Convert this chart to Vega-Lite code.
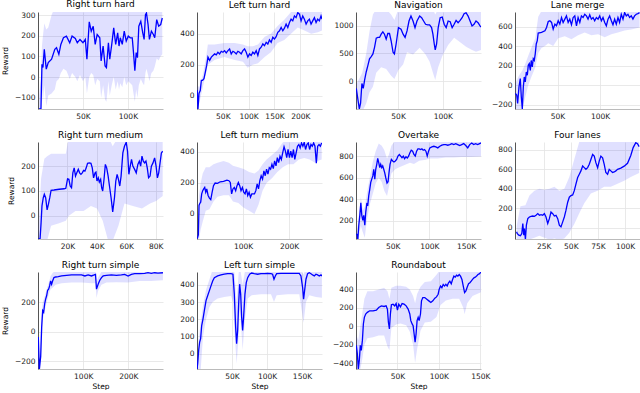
{
"$schema":"https://vega.github.io/schema/vega-lite/v6.json",
"padding":{"left":1,"top":0,"right":0,"bottom":0},
"columns":4,
"spacing":{"row":33,"column":34},
"bounds":"flush",
"datasets":{
"line":[
{"p":1,"s":1.1,"m":-155},{"p":1,"s":3.3,"m":-155},{"p":1,"s":4.4,"m":62},{"p":1,"s":5.5,"m":46},{"p":1,"s":7,"m":134},{"p":1,"s":9.2,"m":38},{"p":1,"s":11.4,"m":70},{"p":1,"s":15.1,"m":86},{"p":1,"s":18.7,"m":134},{"p":1,"s":20.6,"m":142},{"p":1,"s":23.2,"m":110},{"p":1,"s":25.4,"m":158},{"p":1,"s":28.3,"m":190},{"p":1,"s":31.6,"m":198},{"p":1,"s":35.3,"m":166},{"p":1,"s":37.9,"m":198},{"p":1,"s":41.5,"m":187},{"p":1,"s":43.7,"m":166},{"p":1,"s":46.7,"m":182},{"p":1,"s":50,"m":166},{"p":1,"s":52.6,"m":182},{"p":1,"s":54.4,"m":86},{"p":1,"s":57,"m":267},{"p":1,"s":59.2,"m":222},{"p":1,"s":61.4,"m":246},{"p":1,"s":63.6,"m":158},{"p":1,"s":65.8,"m":206},{"p":1,"s":68.7,"m":190},{"p":1,"s":70.2,"m":78},{"p":1,"s":72.4,"m":150},{"p":1,"s":74.6,"m":54},{"p":1,"s":76.1,"m":46},{"p":1,"s":78.3,"m":166},{"p":1,"s":79.8,"m":86},{"p":1,"s":82,"m":158},{"p":1,"s":84.2,"m":238},{"p":1,"s":86.4,"m":158},{"p":1,"s":88.6,"m":214},{"p":1,"s":90.1,"m":150},{"p":1,"s":91.5,"m":190},{"p":1,"s":93.7,"m":158},{"p":1,"s":95.9,"m":222},{"p":1,"s":98.1,"m":174},{"p":1,"s":100.4,"m":198},{"p":1,"s":102.6,"m":190},{"p":1,"s":104.8,"m":190},{"p":1,"s":106.2,"m":118},{"p":1,"s":107.7,"m":30},{"p":1,"s":109.2,"m":118},{"p":1,"s":110.6,"m":94},{"p":1,"s":112.1,"m":246},{"p":1,"s":114.3,"m":270},{"p":1,"s":116.5,"m":214},{"p":1,"s":118,"m":182},{"p":1,"s":119.5,"m":302},{"p":1,"s":120.6,"m":310},{"p":1,"s":122.4,"m":254},{"p":1,"s":123.9,"m":182},{"p":1,"s":126.1,"m":222},{"p":1,"s":128.3,"m":206},{"p":1,"s":129.8,"m":190},{"p":1,"s":132,"m":278},{"p":1,"s":134.2,"m":246},{"p":1,"s":136.4,"m":254},{"p":1,"s":138.2,"m":286},
{"p":2,"s":0.6,"m":36},{"p":2,"s":1.9,"m":-85},{"p":2,"s":3.9,"m":15},{"p":2,"s":6.4,"m":36},{"p":2,"s":8.4,"m":100},{"p":2,"s":10.9,"m":100},{"p":2,"s":13.5,"m":110},{"p":2,"s":16.1,"m":153},{"p":2,"s":18.7,"m":196},{"p":2,"s":21.2,"m":249},{"p":2,"s":24.5,"m":228},{"p":2,"s":27.7,"m":249},{"p":2,"s":30.9,"m":260},{"p":2,"s":34.1,"m":270},{"p":2,"s":37.3,"m":264},{"p":2,"s":40.5,"m":281},{"p":2,"s":43.8,"m":270},{"p":2,"s":47,"m":287},{"p":2,"s":50.2,"m":281},{"p":2,"s":53.4,"m":291},{"p":2,"s":56.6,"m":277},{"p":2,"s":59.9,"m":291},{"p":2,"s":63.1,"m":302},{"p":2,"s":66.3,"m":270},{"p":2,"s":69.5,"m":287},{"p":2,"s":72.7,"m":281},{"p":2,"s":76,"m":270},{"p":2,"s":79.2,"m":287},{"p":2,"s":82.4,"m":281},{"p":2,"s":85.6,"m":270},{"p":2,"s":88.8,"m":291},{"p":2,"s":92.1,"m":302},{"p":2,"s":95.3,"m":281},{"p":2,"s":98.5,"m":249},{"p":2,"s":101.7,"m":270},{"p":2,"s":104.9,"m":260},{"p":2,"s":108.1,"m":281},{"p":2,"s":111.4,"m":270},{"p":2,"s":114.6,"m":291},{"p":2,"s":117.8,"m":260},{"p":2,"s":121,"m":302},{"p":2,"s":124.2,"m":313},{"p":2,"s":127.5,"m":334},{"p":2,"s":130.7,"m":323},{"p":2,"s":133.9,"m":345},{"p":2,"s":137.1,"m":334},{"p":2,"s":140.3,"m":360},{"p":2,"s":143.6,"m":345},{"p":2,"s":146.8,"m":377},{"p":2,"s":150,"m":366},{"p":2,"s":153.2,"m":381},{"p":2,"s":156.4,"m":409},{"p":2,"s":159.7,"m":419},{"p":2,"s":162.9,"m":440},{"p":2,"s":166.1,"m":419},{"p":2,"s":169.3,"m":436},{"p":2,"s":172.5,"m":462},{"p":2,"s":175.8,"m":440},{"p":2,"s":179,"m":472},{"p":2,"s":182.2,"m":494},{"p":2,"s":185.4,"m":483},{"p":2,"s":188.6,"m":515},{"p":2,"s":191.8,"m":504},{"p":2,"s":195.1,"m":536},{"p":2,"s":198.3,"m":526},{"p":2,"s":201.5,"m":483},{"p":2,"s":204.7,"m":515},{"p":2,"s":207.9,"m":494},{"p":2,"s":211.2,"m":462},{"p":2,"s":214.4,"m":483},{"p":2,"s":217.6,"m":494},{"p":2,"s":220.8,"m":462},{"p":2,"s":224,"m":483},{"p":2,"s":227.3,"m":504},{"p":2,"s":230.5,"m":472},{"p":2,"s":233.7,"m":494},{"p":2,"s":236.9,"m":483},{"p":2,"s":240.1,"m":515},{"p":2,"s":242,"m":494},
{"p":3,"s":3.3,"m":-130},{"p":3,"s":5.2,"m":-337},{"p":3,"s":6.7,"m":-497},{"p":3,"s":8.1,"m":-396},{"p":3,"s":9.6,"m":-41},{"p":3,"s":11.1,"m":-130},{"p":3,"s":12.6,"m":18},{"p":3,"s":14.4,"m":166},{"p":3,"s":16.3,"m":284},{"p":3,"s":18.1,"m":402},{"p":3,"s":20,"m":444},{"p":3,"s":21.9,"m":491},{"p":3,"s":23.7,"m":609},{"p":3,"s":25.6,"m":775},{"p":3,"s":27.4,"m":787},{"p":3,"s":29.3,"m":787},{"p":3,"s":31.1,"m":846},{"p":3,"s":33,"m":888},{"p":3,"s":34.8,"m":846},{"p":3,"s":36.7,"m":757},{"p":3,"s":38.5,"m":858},{"p":3,"s":40.4,"m":858},{"p":3,"s":42.2,"m":728},{"p":3,"s":44.4,"m":521},{"p":3,"s":45.9,"m":491},{"p":3,"s":47.8,"m":669},{"p":3,"s":50.4,"m":964},{"p":3,"s":53.3,"m":935},{"p":3,"s":55.6,"m":846},{"p":3,"s":57.8,"m":787},{"p":3,"s":60,"m":905},{"p":3,"s":62.2,"m":1083},{"p":3,"s":64.4,"m":1172},{"p":3,"s":66.7,"m":1083},{"p":3,"s":68.9,"m":964},{"p":3,"s":71.1,"m":1083},{"p":3,"s":74.1,"m":1172},{"p":3,"s":76.3,"m":1142},{"p":3,"s":78.5,"m":1083},{"p":3,"s":80.7,"m":1024},{"p":3,"s":83,"m":1012},{"p":3,"s":85.2,"m":1012},{"p":3,"s":87.4,"m":964},{"p":3,"s":88.9,"m":846},{"p":3,"s":90.4,"m":669},{"p":3,"s":91.5,"m":562},{"p":3,"s":93,"m":669},{"p":3,"s":94.8,"m":964},{"p":3,"s":97,"m":1142},{"p":3,"s":99.3,"m":1154},{"p":3,"s":101.5,"m":1024},{"p":3,"s":103.7,"m":964},{"p":3,"s":105.9,"m":1083},{"p":3,"s":108.2,"m":1071},{"p":3,"s":110.4,"m":964},{"p":3,"s":112.6,"m":1024},{"p":3,"s":114.8,"m":1095},{"p":3,"s":117,"m":1053},{"p":3,"s":119.3,"m":1095},{"p":3,"s":121.5,"m":1142},{"p":3,"s":123.7,"m":1213},{"p":3,"s":125.9,"m":1231},{"p":3,"s":128.2,"m":1172},{"p":3,"s":130.4,"m":1083},{"p":3,"s":132.6,"m":994},{"p":3,"s":134.8,"m":1024},{"p":3,"s":137,"m":1083},{"p":3,"s":139.3,"m":1053},{"p":3,"s":141.5,"m":994},{"p":3,"s":142.6,"m":976},
{"p":4,"s":0.4,"m":-84},{"p":4,"s":2,"m":-101},{"p":4,"s":3.1,"m":-186},{"p":4,"s":4.7,"m":-17},{"p":4,"s":6.2,"m":68},{"p":4,"s":7.4,"m":-118},{"p":4,"s":8.6,"m":-243},{"p":4,"s":9.8,"m":-17},{"p":4,"s":10.9,"m":84},{"p":4,"s":12.1,"m":34},{"p":4,"s":13.3,"m":135},{"p":4,"s":14.5,"m":101},{"p":4,"s":15.6,"m":203},{"p":4,"s":16.8,"m":220},{"p":4,"s":18,"m":152},{"p":4,"s":19.1,"m":253},{"p":4,"s":20.3,"m":186},{"p":4,"s":21.5,"m":270},{"p":4,"s":22.7,"m":253},{"p":4,"s":23.8,"m":321},{"p":4,"s":25,"m":422},{"p":4,"s":26.2,"m":456},{"p":4,"s":27.3,"m":534},{"p":4,"s":31.2,"m":541},{"p":4,"s":35.2,"m":557},{"p":4,"s":37.1,"m":591},{"p":4,"s":39.1,"m":652},{"p":4,"s":41,"m":659},{"p":4,"s":43,"m":642},{"p":4,"s":44.9,"m":574},{"p":4,"s":46.9,"m":625},{"p":4,"s":48.8,"m":608},{"p":4,"s":50.8,"m":659},{"p":4,"s":52.7,"m":625},{"p":4,"s":54.7,"m":693},{"p":4,"s":56.6,"m":642},{"p":4,"s":58.6,"m":676},{"p":4,"s":60.5,"m":709},{"p":4,"s":62.5,"m":642},{"p":4,"s":64.4,"m":676},{"p":4,"s":66.4,"m":618},{"p":4,"s":68.4,"m":693},{"p":4,"s":70.3,"m":709},{"p":4,"s":72.3,"m":608},{"p":4,"s":74.2,"m":693},{"p":4,"s":76.2,"m":642},{"p":4,"s":78.1,"m":709},{"p":4,"s":80.1,"m":693},{"p":4,"s":82,"m":726},{"p":4,"s":84,"m":709},{"p":4,"s":85.9,"m":676},{"p":4,"s":87.9,"m":720},{"p":4,"s":89.8,"m":676},{"p":4,"s":91.8,"m":693},{"p":4,"s":93.7,"m":659},{"p":4,"s":95.7,"m":693},{"p":4,"s":97.7,"m":676},{"p":4,"s":99.6,"m":709},{"p":4,"s":101.6,"m":659},{"p":4,"s":103.5,"m":693},{"p":4,"s":105.5,"m":642},{"p":4,"s":107.4,"m":608},{"p":4,"s":109.4,"m":676},{"p":4,"s":111.3,"m":709},{"p":4,"s":113.3,"m":659},{"p":4,"s":115.2,"m":618},{"p":4,"s":117.2,"m":676},{"p":4,"s":119.1,"m":625},{"p":4,"s":121.1,"m":693},{"p":4,"s":123,"m":642},{"p":4,"s":125,"m":726},{"p":4,"s":127,"m":676},{"p":4,"s":128.9,"m":743},{"p":4,"s":130.9,"m":709},{"p":4,"s":132.8,"m":726},{"p":4,"s":134.8,"m":693},{"p":4,"s":136.7,"m":709},{"p":4,"s":138.7,"m":676},{"p":4,"s":140.6,"m":709},{"p":4,"s":142.6,"m":726},{"p":4,"s":144.5,"m":733},{"p":4,"s":146.5,"m":743},
{"p":5,"s":0.2,"m":-93},{"p":5,"s":1.4,"m":-93},{"p":5,"s":2.1,"m":-27},{"p":5,"s":2.7,"m":40},{"p":5,"s":3.6,"m":73},{"p":5,"s":4.3,"m":87},{"p":5,"s":5.2,"m":73},{"p":5,"s":6.2,"m":24},{"p":5,"s":7.1,"m":47},{"p":5,"s":8,"m":73},{"p":5,"s":8.9,"m":103},{"p":5,"s":10.9,"m":104},{"p":5,"s":14.4,"m":107},{"p":5,"s":17.8,"m":109},{"p":5,"s":18.9,"m":111},{"p":5,"s":20.1,"m":149},{"p":5,"s":21,"m":147},{"p":5,"s":21.9,"m":120},{"p":5,"s":22.8,"m":113},{"p":5,"s":23.7,"m":173},{"p":5,"s":24.6,"m":193},{"p":5,"s":25.5,"m":160},{"p":5,"s":26.4,"m":173},{"p":5,"s":27.4,"m":187},{"p":5,"s":28.3,"m":173},{"p":5,"s":29.2,"m":167},{"p":5,"s":30.1,"m":173},{"p":5,"s":31,"m":183},{"p":5,"s":31.9,"m":180},{"p":5,"s":32.8,"m":193},{"p":5,"s":33.7,"m":211},{"p":5,"s":34.9,"m":213},{"p":5,"s":36,"m":211},{"p":5,"s":36.9,"m":193},{"p":5,"s":37.8,"m":153},{"p":5,"s":38.8,"m":173},{"p":5,"s":39.4,"m":176},{"p":5,"s":40.1,"m":140},{"p":5,"s":41,"m":153},{"p":5,"s":41.7,"m":136},{"p":5,"s":42.6,"m":147},{"p":5,"s":43.3,"m":113},{"p":5,"s":44,"m":100},{"p":5,"s":44.9,"m":147},{"p":5,"s":45.8,"m":207},{"p":5,"s":46.7,"m":193},{"p":5,"s":47.7,"m":160},{"p":5,"s":48.6,"m":120},{"p":5,"s":49.7,"m":73},{"p":5,"s":50.8,"m":16},{"p":5,"s":52,"m":73},{"p":5,"s":52.9,"m":140},{"p":5,"s":53.8,"m":167},{"p":5,"s":54.7,"m":147},{"p":5,"s":55.6,"m":120},{"p":5,"s":56.5,"m":160},{"p":5,"s":57.7,"m":253},{"p":5,"s":58.8,"m":280},{"p":5,"s":60,"m":296},{"p":5,"s":60.9,"m":260},{"p":5,"s":61.8,"m":167},{"p":5,"s":62.7,"m":200},{"p":5,"s":63.6,"m":227},{"p":5,"s":64.5,"m":200},{"p":5,"s":65.7,"m":187},{"p":5,"s":66.8,"m":173},{"p":5,"s":67.9,"m":207},{"p":5,"s":68.9,"m":220},{"p":5,"s":69.8,"m":200},{"p":5,"s":70.7,"m":240},{"p":5,"s":71.6,"m":220},{"p":5,"s":72.5,"m":213},{"p":5,"s":73.4,"m":220},{"p":5,"s":74.3,"m":193},{"p":5,"s":75.2,"m":153},{"p":5,"s":76.2,"m":160},{"p":5,"s":77.1,"m":200},{"p":5,"s":78.2,"m":213},{"p":5,"s":79.3,"m":233},{"p":5,"s":80.3,"m":200},{"p":5,"s":81.2,"m":153},{"p":5,"s":82.1,"m":173},{"p":5,"s":83,"m":213},{"p":5,"s":83.9,"m":253},{"p":5,"s":84.8,"m":260},
{"p":6,"s":0.7,"m":-157},{"p":6,"s":2.9,"m":-135},{"p":6,"s":4.4,"m":55},{"p":6,"s":5.8,"m":66},{"p":6,"s":8,"m":76},{"p":6,"s":10.2,"m":129},{"p":6,"s":12.4,"m":150},{"p":6,"s":14.6,"m":161},{"p":6,"s":16.8,"m":171},{"p":6,"s":19,"m":140},{"p":6,"s":21.2,"m":161},{"p":6,"s":24.1,"m":119},{"p":6,"s":27,"m":102},{"p":6,"s":29.9,"m":93},{"p":6,"s":32.9,"m":140},{"p":6,"s":35.8,"m":182},{"p":6,"s":39.4,"m":199},{"p":6,"s":44.5,"m":197},{"p":6,"s":50.4,"m":207},{"p":6,"s":57.7,"m":210},{"p":6,"s":65,"m":218},{"p":6,"s":69.4,"m":214},{"p":6,"s":72.3,"m":203},{"p":6,"s":75.2,"m":129},{"p":6,"s":78.1,"m":161},{"p":6,"s":81,"m":171},{"p":6,"s":84,"m":150},{"p":6,"s":86.9,"m":182},{"p":6,"s":89.8,"m":203},{"p":6,"s":92.7,"m":182},{"p":6,"s":95.6,"m":150},{"p":6,"s":98.6,"m":171},{"p":6,"s":101.5,"m":140},{"p":6,"s":104.4,"m":129},{"p":6,"s":107.3,"m":161},{"p":6,"s":110.2,"m":119},{"p":6,"s":113.2,"m":140},{"p":6,"s":116.1,"m":108},{"p":6,"s":119,"m":129},{"p":6,"s":121.9,"m":129},{"p":6,"s":124.8,"m":129},{"p":6,"s":127.8,"m":150},{"p":6,"s":130.7,"m":193},{"p":6,"s":133.6,"m":161},{"p":6,"s":136.5,"m":214},{"p":6,"s":139.4,"m":246},{"p":6,"s":142.4,"m":224},{"p":6,"s":145.3,"m":277},{"p":6,"s":148.2,"m":246},{"p":6,"s":151.1,"m":288},{"p":6,"s":154,"m":256},{"p":6,"s":157,"m":298},{"p":6,"s":159.9,"m":288},{"p":6,"s":162.8,"m":320},{"p":6,"s":165.7,"m":292},{"p":6,"s":168.6,"m":341},{"p":6,"s":171.6,"m":309},{"p":6,"s":174.5,"m":362},{"p":6,"s":177.4,"m":330},{"p":6,"s":180.3,"m":372},{"p":6,"s":183.2,"m":351},{"p":6,"s":186.2,"m":394},{"p":6,"s":189.1,"m":432},{"p":6,"s":192,"m":404},{"p":6,"s":194.9,"m":362},{"p":6,"s":197.8,"m":415},{"p":6,"s":200.8,"m":362},{"p":6,"s":203.7,"m":404},{"p":6,"s":206.6,"m":362},{"p":6,"s":209.5,"m":415},{"p":6,"s":212.4,"m":351},{"p":6,"s":215.4,"m":394},{"p":6,"s":218.3,"m":436},{"p":6,"s":221.2,"m":447},{"p":6,"s":224.1,"m":425},{"p":6,"s":227,"m":457},{"p":6,"s":230,"m":436},{"p":6,"s":232.9,"m":461},{"p":6,"s":235.8,"m":415},{"p":6,"s":238.7,"m":447},{"p":6,"s":241.6,"m":457},{"p":6,"s":244.6,"m":415},{"p":6,"s":247.5,"m":447},{"p":6,"s":250.4,"m":436},{"p":6,"s":253.3,"m":457},{"p":6,"s":256.2,"m":436},{"p":6,"s":259.2,"m":326},{"p":6,"s":262.1,"m":436},{"p":6,"s":265,"m":447},{"p":6,"s":267.9,"m":436},{"p":6,"s":270.8,"m":457},
{"p":7,"s":0.2,"m":71},{"p":7,"s":1.6,"m":71},{"p":7,"s":2.5,"m":20},{"p":7,"s":3.8,"m":157},{"p":7,"s":5.2,"m":249},{"p":7,"s":6.6,"m":366},{"p":7,"s":7.9,"m":249},{"p":7,"s":9.3,"m":203},{"p":7,"s":10.6,"m":249},{"p":7,"s":12,"m":157},{"p":7,"s":13.3,"m":280},{"p":7,"s":14.7,"m":357},{"p":7,"s":16.1,"m":348},{"p":7,"s":17.4,"m":434},{"p":7,"s":18.8,"m":495},{"p":7,"s":20.1,"m":557},{"p":7,"s":21.5,"m":588},{"p":7,"s":22.9,"m":618},{"p":7,"s":24.2,"m":680},{"p":7,"s":25.6,"m":588},{"p":7,"s":26.9,"m":680},{"p":7,"s":28.3,"m":726},{"p":7,"s":29.6,"m":782},{"p":7,"s":31,"m":742},{"p":7,"s":32.4,"m":695},{"p":7,"s":33.7,"m":726},{"p":7,"s":35.1,"m":695},{"p":7,"s":36.4,"m":711},{"p":7,"s":37.8,"m":680},{"p":7,"s":39.1,"m":649},{"p":7,"s":40.5,"m":603},{"p":7,"s":42.3,"m":551},{"p":7,"s":43.7,"m":563},{"p":7,"s":45,"m":649},{"p":7,"s":46.4,"m":726},{"p":7,"s":48.2,"m":772},{"p":7,"s":50,"m":757},{"p":7,"s":51.8,"m":748},{"p":7,"s":53.6,"m":757},{"p":7,"s":55.4,"m":772},{"p":7,"s":57.2,"m":803},{"p":7,"s":59.1,"m":818},{"p":7,"s":60.9,"m":803},{"p":7,"s":62.7,"m":788},{"p":7,"s":64.5,"m":803},{"p":7,"s":66.3,"m":778},{"p":7,"s":68.1,"m":797},{"p":7,"s":69.9,"m":785},{"p":7,"s":71.7,"m":803},{"p":7,"s":73.5,"m":834},{"p":7,"s":75.3,"m":858},{"p":7,"s":77.2,"m":849},{"p":7,"s":79,"m":818},{"p":7,"s":80.8,"m":803},{"p":7,"s":82.6,"m":849},{"p":7,"s":84.4,"m":871},{"p":7,"s":86.2,"m":871},{"p":7,"s":88,"m":865},{"p":7,"s":89.8,"m":871},{"p":7,"s":91.6,"m":858},{"p":7,"s":93.4,"m":865},{"p":7,"s":95.3,"m":849},{"p":7,"s":97.1,"m":803},{"p":7,"s":98.9,"m":849},{"p":7,"s":100.7,"m":880},{"p":7,"s":103.4,"m":889},{"p":7,"s":106.1,"m":895},{"p":7,"s":108.8,"m":889},{"p":7,"s":111.5,"m":880},{"p":7,"s":114.3,"m":895},{"p":7,"s":117,"m":905},{"p":7,"s":119.7,"m":911},{"p":7,"s":122.4,"m":911},{"p":7,"s":125.1,"m":905},{"p":7,"s":127.8,"m":911},{"p":7,"s":130.6,"m":920},{"p":7,"s":133.3,"m":911},{"p":7,"s":136,"m":920},{"p":7,"s":138.7,"m":911},{"p":7,"s":141.4,"m":902},{"p":7,"s":144.1,"m":911},{"p":7,"s":146.8,"m":920},{"p":7,"s":149.6,"m":902},{"p":7,"s":152.3,"m":880},{"p":7,"s":155,"m":911},{"p":7,"s":157.7,"m":926},{"p":7,"s":160.4,"m":911},{"p":7,"s":163.1,"m":920},{"p":7,"s":165.8,"m":911},{"p":7,"s":168.5,"m":920},{"p":7,"s":170.4,"m":926},
{"p":8,"s":0,"m":-40},{"p":8,"s":0.5,"m":-57},{"p":8,"s":2,"m":-74},{"p":8,"s":3.5,"m":-81},{"p":8,"s":4.8,"m":-57},{"p":8,"s":5.7,"m":44},{"p":8,"s":6.6,"m":-74},{"p":8,"s":7.2,"m":-7},{"p":8,"s":8.1,"m":-120},{"p":8,"s":9,"m":27},{"p":8,"s":10.3,"m":94},{"p":8,"s":11.8,"m":111},{"p":8,"s":13.3,"m":118},{"p":8,"s":14.9,"m":121},{"p":8,"s":16.4,"m":118},{"p":8,"s":17.9,"m":128},{"p":8,"s":19.5,"m":145},{"p":8,"s":21,"m":128},{"p":8,"s":22.5,"m":134},{"p":8,"s":24.1,"m":128},{"p":8,"s":25.6,"m":145},{"p":8,"s":27.1,"m":111},{"p":8,"s":28.7,"m":44},{"p":8,"s":30.2,"m":94},{"p":8,"s":31.7,"m":161},{"p":8,"s":33.3,"m":145},{"p":8,"s":34.8,"m":121},{"p":8,"s":36.3,"m":128},{"p":8,"s":37.9,"m":94},{"p":8,"s":39.4,"m":27},{"p":8,"s":40.9,"m":10},{"p":8,"s":42.5,"m":61},{"p":8,"s":44,"m":111},{"p":8,"s":45.5,"m":178},{"p":8,"s":47.1,"m":262},{"p":8,"s":48.6,"m":313},{"p":8,"s":50.1,"m":329},{"p":8,"s":51.7,"m":336},{"p":8,"s":53.2,"m":380},{"p":8,"s":54.7,"m":447},{"p":8,"s":56.3,"m":514},{"p":8,"s":57.8,"m":548},{"p":8,"s":59.3,"m":582},{"p":8,"s":60.9,"m":632},{"p":8,"s":62.4,"m":615},{"p":8,"s":63.9,"m":598},{"p":8,"s":65.5,"m":615},{"p":8,"s":67,"m":649},{"p":8,"s":68.5,"m":699},{"p":8,"s":70.1,"m":750},{"p":8,"s":71.6,"m":733},{"p":8,"s":73.1,"m":666},{"p":8,"s":74.7,"m":615},{"p":8,"s":76.2,"m":682},{"p":8,"s":77.7,"m":733},{"p":8,"s":79.3,"m":716},{"p":8,"s":80.8,"m":649},{"p":8,"s":82.3,"m":565},{"p":8,"s":83.9,"m":548},{"p":8,"s":85.4,"m":598},{"p":8,"s":86.9,"m":582},{"p":8,"s":88.5,"m":565},{"p":8,"s":90,"m":571},{"p":8,"s":91.5,"m":582},{"p":8,"s":93.1,"m":598},{"p":8,"s":96.1,"m":610},{"p":8,"s":99.2,"m":630},{"p":8,"s":102.3,"m":660},{"p":8,"s":105.3,"m":740},{"p":8,"s":107.5,"m":820},{"p":8,"s":109.9,"m":870},{"p":8,"s":111.5,"m":860},{"p":8,"s":113,"m":830},
{"p":9,"s":0.7,"m":-36},{"p":9,"s":2.9,"m":-254},{"p":9,"s":5.9,"m":-171},{"p":9,"s":8.1,"m":31},{"p":9,"s":10.3,"m":144},{"p":9,"s":12.5,"m":133},{"p":9,"s":14.7,"m":189},{"p":9,"s":16.9,"m":222},{"p":9,"s":19.1,"m":245},{"p":9,"s":21.3,"m":283},{"p":9,"s":23.5,"m":290},{"p":9,"s":25.7,"m":312},{"p":9,"s":27.9,"m":346},{"p":9,"s":30.1,"m":324},{"p":9,"s":32.3,"m":346},{"p":9,"s":35.3,"m":369},{"p":9,"s":39,"m":373},{"p":9,"s":44.8,"m":375},{"p":9,"s":52.2,"m":380},{"p":9,"s":63.2,"m":384},{"p":9,"s":74.2,"m":387},{"p":9,"s":85.3,"m":387},{"p":9,"s":96.3,"m":387},{"p":9,"s":103.6,"m":380},{"p":9,"s":111,"m":387},{"p":9,"s":118.3,"m":380},{"p":9,"s":124.2,"m":387},{"p":9,"s":127.2,"m":391},{"p":9,"s":129.4,"m":290},{"p":9,"s":133,"m":324},{"p":9,"s":136.7,"m":351},{"p":9,"s":140.4,"m":369},{"p":9,"s":144.1,"m":380},{"p":9,"s":151.4,"m":384},{"p":9,"s":162.4,"m":387},{"p":9,"s":173.5,"m":384},{"p":9,"s":184.5,"m":387},{"p":9,"s":191.8,"m":391},{"p":9,"s":199.2,"m":380},{"p":9,"s":206.5,"m":391},{"p":9,"s":213.9,"m":396},{"p":9,"s":224.9,"m":396},{"p":9,"s":236,"m":398},{"p":9,"s":243.3,"m":402},{"p":9,"s":250.6,"m":398},{"p":9,"s":258,"m":402},{"p":9,"s":265.3,"m":400},{"p":9,"s":276.4,"m":402},
{"p":10,"s":0,"m":-90},{"p":10,"s":1,"m":-58},{"p":10,"s":2.4,"m":19},{"p":10,"s":3.8,"m":67},{"p":10,"s":5.2,"m":87},{"p":10,"s":6.7,"m":163},{"p":10,"s":8.6,"m":202},{"p":10,"s":10.5,"m":250},{"p":10,"s":12.9,"m":308},{"p":10,"s":15.2,"m":337},{"p":10,"s":17.6,"m":365},{"p":10,"s":20,"m":394},{"p":10,"s":22.4,"m":423},{"p":10,"s":24.8,"m":442},{"p":10,"s":29.5,"m":452},{"p":10,"s":34.3,"m":458},{"p":10,"s":39,"m":462},{"p":10,"s":43.8,"m":465},{"p":10,"s":48.6,"m":465},{"p":10,"s":51.4,"m":462},{"p":10,"s":53.3,"m":346},{"p":10,"s":55.2,"m":154},{"p":10,"s":56.6,"m":58},{"p":10,"s":58.1,"m":135},{"p":10,"s":59.5,"m":288},{"p":10,"s":60.9,"m":404},{"p":10,"s":62.4,"m":346},{"p":10,"s":63.8,"m":212},{"p":10,"s":65.2,"m":135},{"p":10,"s":66.6,"m":212},{"p":10,"s":68.5,"m":346},{"p":10,"s":70.4,"m":413},{"p":10,"s":72.4,"m":442},{"p":10,"s":75.2,"m":462},{"p":10,"s":78.1,"m":469},{"p":10,"s":81.9,"m":465},{"p":10,"s":86.6,"m":462},{"p":10,"s":91.4,"m":465},{"p":10,"s":96.2,"m":465},{"p":10,"s":100.9,"m":467},{"p":10,"s":105.7,"m":465},{"p":10,"s":108,"m":462},{"p":10,"s":110,"m":433},{"p":10,"s":111.9,"m":452},{"p":10,"s":113.8,"m":465},{"p":10,"s":120,"m":467},{"p":10,"s":129.5,"m":467},{"p":10,"s":139,"m":467},{"p":10,"s":146.1,"m":467},{"p":10,"s":148.5,"m":452},{"p":10,"s":150.9,"m":385},{"p":10,"s":152.3,"m":317},{"p":10,"s":153.7,"m":365},{"p":10,"s":155.7,"m":433},{"p":10,"s":158,"m":465},{"p":10,"s":160.4,"m":471},{"p":10,"s":162.8,"m":465},{"p":10,"s":165.2,"m":458},{"p":10,"s":167.6,"m":452},{"p":10,"s":169.9,"m":462},{"p":10,"s":172.3,"m":458},{"p":10,"s":174.7,"m":452},{"p":10,"s":177.1,"m":458},{"p":10,"s":178.5,"m":452},
{"p":11,"s":0.4,"m":-208},{"p":11,"s":1.6,"m":-297},{"p":11,"s":2.8,"m":-466},{"p":11,"s":4,"m":-369},{"p":11,"s":5.2,"m":-208},{"p":11,"s":6.4,"m":-262},{"p":11,"s":7.7,"m":-154},{"p":11,"s":8.9,"m":25},{"p":11,"s":10.1,"m":97},{"p":11,"s":11.7,"m":133},{"p":11,"s":13.7,"m":151},{"p":11,"s":16.5,"m":168},{"p":11,"s":20.6,"m":168},{"p":11,"s":24.6,"m":176},{"p":11,"s":27.4,"m":204},{"p":11,"s":30.6,"m":222},{"p":11,"s":33.9,"m":215},{"p":11,"s":36.3,"m":222},{"p":11,"s":37.9,"m":186},{"p":11,"s":39.1,"m":43},{"p":11,"s":40.3,"m":-29},{"p":11,"s":41.5,"m":133},{"p":11,"s":42.7,"m":233},{"p":11,"s":44.7,"m":240},{"p":11,"s":46.7,"m":222},{"p":11,"s":48.4,"m":247},{"p":11,"s":50,"m":176},{"p":11,"s":51.6,"m":240},{"p":11,"s":53.6,"m":211},{"p":11,"s":55.6,"m":247},{"p":11,"s":58,"m":240},{"p":11,"s":60.5,"m":222},{"p":11,"s":62.9,"m":186},{"p":11,"s":64.9,"m":133},{"p":11,"s":66.1,"m":61},{"p":11,"s":67.7,"m":25},{"p":11,"s":68.9,"m":7},{"p":11,"s":70.1,"m":-82},{"p":11,"s":71.3,"m":-172},{"p":11,"s":72.5,"m":-82},{"p":11,"s":73.7,"m":61},{"p":11,"s":75,"m":97},{"p":11,"s":76.2,"m":61},{"p":11,"s":77.8,"m":133},{"p":11,"s":79,"m":276},{"p":11,"s":80.6,"m":312},{"p":11,"s":83,"m":312},{"p":11,"s":85.4,"m":294},{"p":11,"s":87.9,"m":276},{"p":11,"s":90.3,"m":258},{"p":11,"s":92.7,"m":276},{"p":11,"s":95.1,"m":305},{"p":11,"s":97.1,"m":319},{"p":11,"s":99.1,"m":348},{"p":11,"s":100.3,"m":401},{"p":11,"s":102,"m":437},{"p":11,"s":103.6,"m":419},{"p":11,"s":105.2,"m":455},{"p":11,"s":106.8,"m":437},{"p":11,"s":108.4,"m":455},{"p":11,"s":110,"m":437},{"p":11,"s":111.6,"m":473},{"p":11,"s":113.2,"m":491},{"p":11,"s":114.9,"m":462},{"p":11,"s":116.5,"m":509},{"p":11,"s":118.1,"m":545},{"p":11,"s":119.7,"m":534},{"p":11,"s":121.3,"m":556},{"p":11,"s":122.9,"m":545},{"p":11,"s":124.5,"m":563},{"p":11,"s":126.1,"m":545},{"p":11,"s":127.8,"m":509},{"p":11,"s":129.4,"m":437},{"p":11,"s":131,"m":366},{"p":11,"s":132.6,"m":384},{"p":11,"s":134.2,"m":427},{"p":11,"s":135.8,"m":462},{"p":11,"s":137.4,"m":473},{"p":11,"s":139,"m":491},{"p":11,"s":140.6,"m":509},{"p":11,"s":142.3,"m":527},{"p":11,"s":143.9,"m":534},{"p":11,"s":145.5,"m":545},{"p":11,"s":147.1,"m":563},{"p":11,"s":148.7,"m":570},{"p":11,"s":150.7,"m":588}
],
"band":[
{"p":1,"s":1.1,"lo":-160,"hi":-100},{"p":1,"s":3.3,"lo":-160,"hi":0},{"p":1,"s":4.4,"lo":-60,"hi":150},{"p":1,"s":5.5,"lo":-120,"hi":200},{"p":1,"s":7,"lo":-40,"hi":260},{"p":1,"s":9.2,"lo":-140,"hi":230},{"p":1,"s":11.4,"lo":-90,"hi":240},{"p":1,"s":15.1,"lo":-80,"hi":300},{"p":1,"s":18.7,"lo":-60,"hi":340},{"p":1,"s":20.6,"lo":-20,"hi":340},{"p":1,"s":23.2,"lo":-10,"hi":340},{"p":1,"s":25.4,"lo":20,"hi":340},{"p":1,"s":28.3,"lo":40,"hi":340},{"p":1,"s":31.6,"lo":30,"hi":340},{"p":1,"s":35.3,"lo":-10,"hi":340},{"p":1,"s":37.9,"lo":20,"hi":340},{"p":1,"s":41.5,"lo":0,"hi":340},{"p":1,"s":43.7,"lo":-20,"hi":340},{"p":1,"s":46.7,"lo":10,"hi":340},{"p":1,"s":50,"lo":-20,"hi":340},{"p":1,"s":52.6,"lo":0,"hi":340},{"p":1,"s":54.4,"lo":-80,"hi":340},{"p":1,"s":57,"lo":0,"hi":340},{"p":1,"s":59.2,"lo":20,"hi":340},{"p":1,"s":61.4,"lo":10,"hi":340},{"p":1,"s":63.6,"lo":-40,"hi":340},{"p":1,"s":65.8,"lo":-10,"hi":340},{"p":1,"s":68.7,"lo":-20,"hi":340},{"p":1,"s":70.2,"lo":-100,"hi":340},{"p":1,"s":72.4,"lo":-40,"hi":340},{"p":1,"s":74.6,"lo":-110,"hi":340},{"p":1,"s":76.1,"lo":-120,"hi":340},{"p":1,"s":78.3,"lo":-20,"hi":340},{"p":1,"s":79.8,"lo":-90,"hi":340},{"p":1,"s":82,"lo":-40,"hi":340},{"p":1,"s":84.2,"lo":0,"hi":340},{"p":1,"s":86.4,"lo":-60,"hi":340},{"p":1,"s":88.6,"lo":-20,"hi":340},{"p":1,"s":90.1,"lo":-60,"hi":340},{"p":1,"s":91.5,"lo":-30,"hi":340},{"p":1,"s":93.7,"lo":-50,"hi":340},{"p":1,"s":95.9,"lo":0,"hi":340},{"p":1,"s":98.1,"lo":-40,"hi":340},{"p":1,"s":100.4,"lo":-20,"hi":340},{"p":1,"s":102.6,"lo":-30,"hi":340},{"p":1,"s":104.8,"lo":-40,"hi":340},{"p":1,"s":106.2,"lo":-80,"hi":340},{"p":1,"s":107.7,"lo":-120,"hi":340},{"p":1,"s":109.2,"lo":-60,"hi":340},{"p":1,"s":110.6,"lo":-100,"hi":340},{"p":1,"s":112.1,"lo":-40,"hi":340},{"p":1,"s":114.3,"lo":-10,"hi":340},{"p":1,"s":116.5,"lo":-30,"hi":340},{"p":1,"s":118,"lo":-40,"hi":340},{"p":1,"s":119.5,"lo":20,"hi":340},{"p":1,"s":120.6,"lo":40,"hi":340},{"p":1,"s":122.4,"lo":10,"hi":340},{"p":1,"s":123.9,"lo":-20,"hi":340},{"p":1,"s":126.1,"lo":20,"hi":340},{"p":1,"s":128.3,"lo":30,"hi":340},{"p":1,"s":129.8,"lo":50,"hi":340},{"p":1,"s":132,"lo":90,"hi":340},{"p":1,"s":134.2,"lo":80,"hi":340},{"p":1,"s":136.4,"lo":100,"hi":340},{"p":1,"s":138.2,"lo":110,"hi":340},
{"p":2,"s":0.6,"lo":-90,"hi":60},{"p":2,"s":5,"lo":-40,"hi":60},{"p":2,"s":11.6,"lo":60,"hi":140},{"p":2,"s":18,"lo":150,"hi":260},{"p":2,"s":21,"lo":200,"hi":330},{"p":2,"s":34,"lo":230,"hi":330},{"p":2,"s":53,"lo":250,"hi":340},{"p":2,"s":73,"lo":230,"hi":340},{"p":2,"s":89,"lo":220,"hi":330},{"p":2,"s":98,"lo":180,"hi":320},{"p":2,"s":108,"lo":200,"hi":320},{"p":2,"s":118,"lo":210,"hi":330},{"p":2,"s":131,"lo":250,"hi":380},{"p":2,"s":143,"lo":280,"hi":400},{"p":2,"s":156,"lo":340,"hi":450},{"p":2,"s":169,"lo":360,"hi":490},{"p":2,"s":182,"lo":400,"hi":540},{"p":2,"s":195,"lo":440,"hi":570},{"p":2,"s":208,"lo":420,"hi":560},{"p":2,"s":221,"lo":400,"hi":540},{"p":2,"s":234,"lo":410,"hi":540},{"p":2,"s":242,"lo":420,"hi":550},
{"p":3,"s":3.3,"lo":-500,"hi":-50},{"p":3,"s":6.7,"lo":-550,"hi":50},{"p":3,"s":10,"lo":-550,"hi":150},{"p":3,"s":14.4,"lo":-400,"hi":500},{"p":3,"s":18.1,"lo":-200,"hi":900},{"p":3,"s":21.9,"lo":-100,"hi":1200},{"p":3,"s":25.6,"lo":150,"hi":1300},{"p":3,"s":31.1,"lo":250,"hi":1300},{"p":3,"s":36.7,"lo":220,"hi":1300},{"p":3,"s":42.2,"lo":100,"hi":1200},{"p":3,"s":45.9,"lo":40,"hi":1100},{"p":3,"s":50.4,"lo":200,"hi":1300},{"p":3,"s":55.6,"lo":300,"hi":1300},{"p":3,"s":60,"lo":520,"hi":1300},{"p":3,"s":66.7,"lo":480,"hi":1300},{"p":3,"s":74.1,"lo":600,"hi":1300},{"p":3,"s":80.7,"lo":480,"hi":1300},{"p":3,"s":85.2,"lo":350,"hi":1300},{"p":3,"s":88.9,"lo":150,"hi":1300},{"p":3,"s":91.5,"lo":20,"hi":1200},{"p":3,"s":94.8,"lo":250,"hi":1300},{"p":3,"s":99.3,"lo":450,"hi":1300},{"p":3,"s":105.9,"lo":650,"hi":1300},{"p":3,"s":112.6,"lo":780,"hi":1300},{"p":3,"s":119.3,"lo":700,"hi":1300},{"p":3,"s":125.9,"lo":620,"hi":1300},{"p":3,"s":132.6,"lo":560,"hi":1300},{"p":3,"s":137,"lo":530,"hi":1300},{"p":3,"s":142.6,"lo":560,"hi":1300},
{"p":4,"s":0.4,"lo":-250,"hi":20},{"p":4,"s":4.7,"lo":-250,"hi":100},{"p":4,"s":8.6,"lo":-250,"hi":150},{"p":4,"s":12.1,"lo":-120,"hi":220},{"p":4,"s":15.6,"lo":0,"hi":300},{"p":4,"s":19.1,"lo":80,"hi":380},{"p":4,"s":23.8,"lo":180,"hi":480},{"p":4,"s":27.3,"lo":330,"hi":700},{"p":4,"s":31.2,"lo":380,"hi":760},{"p":4,"s":35.2,"lo":400,"hi":800},{"p":4,"s":39.1,"lo":430,"hi":800},{"p":4,"s":44.9,"lo":400,"hi":800},{"p":4,"s":50.8,"lo":480,"hi":800},{"p":4,"s":58.6,"lo":500,"hi":800},{"p":4,"s":66.4,"lo":470,"hi":800},{"p":4,"s":74.2,"lo":510,"hi":800},{"p":4,"s":82,"lo":540,"hi":800},{"p":4,"s":89.8,"lo":510,"hi":800},{"p":4,"s":97.7,"lo":520,"hi":800},{"p":4,"s":105.5,"lo":490,"hi":800},{"p":4,"s":113.3,"lo":520,"hi":800},{"p":4,"s":121.1,"lo":540,"hi":800},{"p":4,"s":128.9,"lo":560,"hi":800},{"p":4,"s":136.7,"lo":570,"hi":800},{"p":4,"s":146.5,"lo":590,"hi":800},
{"p":5,"s":0.2,"lo":-100,"hi":-60},{"p":5,"s":2.1,"lo":-100,"hi":150},{"p":5,"s":4.3,"lo":-100,"hi":230},{"p":5,"s":6.2,"lo":-100,"hi":240},{"p":5,"s":8.9,"lo":-40,"hi":250},{"p":5,"s":14.4,"lo":-30,"hi":250},{"p":5,"s":18.9,"lo":-20,"hi":250},{"p":5,"s":21,"lo":0,"hi":320},{"p":5,"s":25.5,"lo":20,"hi":320},{"p":5,"s":31,"lo":20,"hi":320},{"p":5,"s":36,"lo":40,"hi":320},{"p":5,"s":40.1,"lo":30,"hi":320},{"p":5,"s":44,"lo":-20,"hi":320},{"p":5,"s":47.7,"lo":-100,"hi":320},{"p":5,"s":50.8,"lo":-100,"hi":280},{"p":5,"s":54.7,"lo":-40,"hi":320},{"p":5,"s":58.8,"lo":50,"hi":320},{"p":5,"s":64.5,"lo":40,"hi":320},{"p":5,"s":70.7,"lo":30,"hi":320},{"p":5,"s":76.2,"lo":50,"hi":320},{"p":5,"s":80.3,"lo":60,"hi":320},{"p":5,"s":84.8,"lo":80,"hi":320},
{"p":6,"s":0.7,"lo":-170,"hi":-100},{"p":6,"s":4.4,"lo":-170,"hi":120},{"p":6,"s":8,"lo":-100,"hi":200},{"p":6,"s":12.4,"lo":-50,"hi":260},{"p":6,"s":19,"lo":20,"hi":300},{"p":6,"s":27,"lo":30,"hi":300},{"p":6,"s":35.8,"lo":80,"hi":320},{"p":6,"s":44.5,"lo":110,"hi":330},{"p":6,"s":57.7,"lo":120,"hi":340},{"p":6,"s":69.4,"lo":120,"hi":330},{"p":6,"s":78.1,"lo":80,"hi":310},{"p":6,"s":89.8,"lo":70,"hi":300},{"p":6,"s":101.5,"lo":40,"hi":290},{"p":6,"s":113.2,"lo":20,"hi":270},{"p":6,"s":124.8,"lo":0,"hi":260},{"p":6,"s":133.6,"lo":60,"hi":280},{"p":6,"s":142.4,"lo":150,"hi":320},{"p":6,"s":151.1,"lo":200,"hi":350},{"p":6,"s":162.8,"lo":230,"hi":380},{"p":6,"s":174.5,"lo":270,"hi":410},{"p":6,"s":186.2,"lo":300,"hi":460},{"p":6,"s":197.8,"lo":320,"hi":480},{"p":6,"s":209.5,"lo":320,"hi":480},{"p":6,"s":221.2,"lo":350,"hi":490},{"p":6,"s":232.9,"lo":360,"hi":490},{"p":6,"s":244.6,"lo":350,"hi":490},{"p":6,"s":256.2,"lo":330,"hi":490},{"p":6,"s":262.1,"lo":340,"hi":490},{"p":6,"s":270.8,"lo":350,"hi":490},
{"p":7,"s":0.2,"lo":28,"hi":100},{"p":7,"s":2.5,"lo":0,"hi":160},{"p":7,"s":5.2,"lo":100,"hi":330},{"p":7,"s":6.6,"lo":150,"hi":420},{"p":7,"s":9.3,"lo":90,"hi":300},{"p":7,"s":12,"lo":40,"hi":330},{"p":7,"s":14.7,"lo":200,"hi":450},{"p":7,"s":18.8,"lo":350,"hi":600},{"p":7,"s":22.9,"lo":450,"hi":750},{"p":7,"s":26.9,"lo":550,"hi":850},{"p":7,"s":31,"lo":600,"hi":920},{"p":7,"s":35.1,"lo":560,"hi":900},{"p":7,"s":38.5,"lo":480,"hi":860},{"p":7,"s":42.3,"lo":430,"hi":780},{"p":7,"s":45,"lo":520,"hi":820},{"p":7,"s":48.2,"lo":640,"hi":900},{"p":7,"s":53.6,"lo":680,"hi":950},{"p":7,"s":59.1,"lo":700,"hi":950},{"p":7,"s":66.3,"lo":720,"hi":950},{"p":7,"s":73.5,"lo":740,"hi":950},{"p":7,"s":79,"lo":730,"hi":950},{"p":7,"s":86.2,"lo":760,"hi":950},{"p":7,"s":95.3,"lo":770,"hi":950},{"p":7,"s":100.7,"lo":780,"hi":950},{"p":7,"s":111.5,"lo":780,"hi":950},{"p":7,"s":122.4,"lo":790,"hi":950},{"p":7,"s":133.3,"lo":790,"hi":950},{"p":7,"s":144.1,"lo":795,"hi":950},{"p":7,"s":157.7,"lo":795,"hi":950},{"p":7,"s":170.4,"lo":800,"hi":950},
{"p":8,"s":0,"lo":-120,"hi":20},{"p":8,"s":3.5,"lo":-120,"hi":220},{"p":8,"s":8.1,"lo":-120,"hi":230},{"p":8,"s":11.8,"lo":-120,"hi":330},{"p":8,"s":16.4,"lo":-100,"hi":380},{"p":8,"s":21,"lo":-80,"hi":400},{"p":8,"s":25.6,"lo":-100,"hi":390},{"p":8,"s":30.2,"lo":-120,"hi":400},{"p":8,"s":34.8,"lo":-110,"hi":420},{"p":8,"s":39.4,"lo":-120,"hi":380},{"p":8,"s":44,"lo":-110,"hi":400},{"p":8,"s":48.6,"lo":-50,"hi":520},{"p":8,"s":53.2,"lo":40,"hi":700},{"p":8,"s":57.8,"lo":150,"hi":880},{"p":8,"s":62.4,"lo":250,"hi":950},{"p":8,"s":68.5,"lo":350,"hi":950},{"p":8,"s":74.7,"lo":380,"hi":950},{"p":8,"s":80.8,"lo":420,"hi":950},{"p":8,"s":86.9,"lo":420,"hi":950},{"p":8,"s":93.1,"lo":450,"hi":950},{"p":8,"s":99.2,"lo":480,"hi":950},{"p":8,"s":105.3,"lo":520,"hi":950},{"p":8,"s":113,"lo":560,"hi":950},
{"p":9,"s":0.7,"lo":-260,"hi":0},{"p":9,"s":2.9,"lo":-260,"hi":-200},{"p":9,"s":5.9,"lo":-260,"hi":-50},{"p":9,"s":8.1,"lo":-100,"hi":100},{"p":9,"s":10.3,"lo":80,"hi":200},{"p":9,"s":14.7,"lo":140,"hi":240},{"p":9,"s":19.1,"lo":200,"hi":290},{"p":9,"s":23.5,"lo":250,"hi":330},{"p":9,"s":27.9,"lo":290,"hi":380},{"p":9,"s":32.3,"lo":300,"hi":400},{"p":9,"s":39,"lo":320,"hi":420},{"p":9,"s":52.2,"lo":330,"hi":420},{"p":9,"s":74.2,"lo":335,"hi":420},{"p":9,"s":96.3,"lo":335,"hi":420},{"p":9,"s":118.3,"lo":330,"hi":420},{"p":9,"s":127.2,"lo":330,"hi":420},{"p":9,"s":129.4,"lo":230,"hi":340},{"p":9,"s":133,"lo":280,"hi":370},{"p":9,"s":140.4,"lo":320,"hi":410},{"p":9,"s":151.4,"lo":335,"hi":420},{"p":9,"s":173.5,"lo":338,"hi":420},{"p":9,"s":199.2,"lo":335,"hi":420},{"p":9,"s":224.9,"lo":345,"hi":420},{"p":9,"s":250.6,"lo":345,"hi":420},{"p":9,"s":276.4,"lo":350,"hi":420},
{"p":10,"s":0,"lo":-100,"hi":-50},{"p":10,"s":2.4,"lo":-100,"hi":80},{"p":10,"s":5.2,"lo":-100,"hi":180},{"p":10,"s":8.6,"lo":100,"hi":280},{"p":10,"s":12.9,"lo":200,"hi":370},{"p":10,"s":17.6,"lo":270,"hi":430},{"p":10,"s":22.4,"lo":300,"hi":490},{"p":10,"s":29.5,"lo":320,"hi":500},{"p":10,"s":39,"lo":330,"hi":500},{"p":10,"s":48.6,"lo":335,"hi":500},{"p":10,"s":51.4,"lo":300,"hi":500},{"p":10,"s":53.3,"lo":150,"hi":480},{"p":10,"s":56.6,"lo":-60,"hi":300},{"p":10,"s":59.5,"lo":100,"hi":470},{"p":10,"s":60.9,"lo":250,"hi":500},{"p":10,"s":62.4,"lo":200,"hi":480},{"p":10,"s":65.2,"lo":20,"hi":400},{"p":10,"s":68.5,"lo":200,"hi":480},{"p":10,"s":72.4,"lo":320,"hi":500},{"p":10,"s":78.1,"lo":340,"hi":500},{"p":10,"s":91.4,"lo":345,"hi":500},{"p":10,"s":105.7,"lo":345,"hi":500},{"p":10,"s":110,"lo":300,"hi":500},{"p":10,"s":113.8,"lo":340,"hi":500},{"p":10,"s":129.5,"lo":345,"hi":500},{"p":10,"s":146.1,"lo":345,"hi":500},{"p":10,"s":152.3,"lo":180,"hi":460},{"p":10,"s":155.7,"lo":300,"hi":500},{"p":10,"s":160.4,"lo":340,"hi":500},{"p":10,"s":169.9,"lo":330,"hi":500},{"p":10,"s":178.5,"lo":325,"hi":500},
{"p":11,"s":0.4,"lo":-470,"hi":-100},{"p":11,"s":2.8,"lo":-470,"hi":-150},{"p":11,"s":5.2,"lo":-470,"hi":0},{"p":11,"s":7.7,"lo":-350,"hi":150},{"p":11,"s":10.1,"lo":-200,"hi":300},{"p":11,"s":13.7,"lo":-130,"hi":380},{"p":11,"s":20.6,"lo":-120,"hi":380},{"p":11,"s":27.4,"lo":-100,"hi":400},{"p":11,"s":33.9,"lo":-100,"hi":420},{"p":11,"s":38,"lo":-220,"hi":380},{"p":11,"s":40.3,"lo":-260,"hi":300},{"p":11,"s":42.7,"lo":-20,"hi":420},{"p":11,"s":48.4,"lo":20,"hi":440},{"p":11,"s":53.6,"lo":30,"hi":440},{"p":11,"s":60.5,"lo":10,"hi":430},{"p":11,"s":64.9,"lo":-60,"hi":400},{"p":11,"s":68.9,"lo":-200,"hi":330},{"p":11,"s":71.3,"lo":-400,"hi":250},{"p":11,"s":73.7,"lo":-250,"hi":350},{"p":11,"s":77.8,"lo":-50,"hi":430},{"p":11,"s":83,"lo":40,"hi":480},{"p":11,"s":90.3,"lo":50,"hi":490},{"p":11,"s":97.1,"lo":100,"hi":560},{"p":11,"s":102,"lo":230,"hi":620},{"p":11,"s":108.4,"lo":280,"hi":650},{"p":11,"s":116.5,"lo":300,"hi":650},{"p":11,"s":124.5,"lo":300,"hi":650},{"p":11,"s":129.4,"lo":200,"hi":620},{"p":11,"s":131,"lo":130,"hi":600},{"p":11,"s":134.2,"lo":250,"hi":620},{"p":11,"s":140.6,"lo":330,"hi":650},{"p":11,"s":150.7,"lo":370,"hi":650}
]
},
"concat":[
{"title":"Right turn hard","width":125,"height":97,
 "encoding":{"x":{"field":"s","type":"quantitative","scale":{"domain":[0,139],"nice":false,"zero":false},"axis":{"values":[50,100],"tickCount":20,"labelExpr":"datum.value+'K'","title":null}}},
 "layer":[
  {"data":{"name":"band"},"transform":[{"filter":"datum.p==1"}],"mark":{"type":"area","clip":true,"color":"#0000ff","opacity":0.12},"encoding":{"y":{"field":"lo","type":"quantitative","scale":{"domain":[-155,315],"nice":false,"zero":false},"axis":{"values":[-100,0,100,200,300],"tickCount":20,"format":"d"},"title":"Reward"},"y2":{"field":"hi"}}},
  {"data":{"name":"line"},"transform":[{"filter":"datum.p==1"}],"mark":{"type":"line","clip":true,"color":"#0000ff","strokeWidth":1.3},"encoding":{"y":{"field":"m","type":"quantitative","title":"Reward"}}}]},
{"title":"Left turn hard","width":125,"height":97,
 "encoding":{"x":{"field":"s","type":"quantitative","scale":{"domain":[0,242],"nice":false,"zero":false},"axis":{"values":[50,100,150,200],"tickCount":20,"labelExpr":"datum.value+'K'","title":null}}},
 "layer":[
  {"data":{"name":"band"},"transform":[{"filter":"datum.p==2"}],"mark":{"type":"area","clip":true,"color":"#0000ff","opacity":0.12},"encoding":{"y":{"field":"lo","type":"quantitative","scale":{"domain":[-85,540],"nice":false,"zero":false},"axis":{"values":[0,200,400],"tickCount":20,"format":"d"},"title":null},"y2":{"field":"hi"}}},
  {"data":{"name":"line"},"transform":[{"filter":"datum.p==2"}],"mark":{"type":"line","clip":true,"color":"#0000ff","strokeWidth":1.3},"encoding":{"y":{"field":"m","type":"quantitative","title":null}}}]},
{"title":"Navigation","width":125,"height":97,
 "encoding":{"x":{"field":"s","type":"quantitative","scale":{"domain":[3,142.6],"nice":false,"zero":false},"axis":{"values":[50,100],"tickCount":20,"labelExpr":"datum.value+'K'","title":null}}},
 "layer":[
  {"data":{"name":"band"},"transform":[{"filter":"datum.p==3"}],"mark":{"type":"area","clip":true,"color":"#0000ff","opacity":0.12},"encoding":{"y":{"field":"lo","type":"quantitative","scale":{"domain":[-500,1245],"nice":false,"zero":false},"axis":{"values":[0,500,1000],"tickCount":20,"format":"d"},"title":null},"y2":{"field":"hi"}}},
  {"data":{"name":"line"},"transform":[{"filter":"datum.p==3"}],"mark":{"type":"line","clip":true,"color":"#0000ff","strokeWidth":1.3},"encoding":{"y":{"field":"m","type":"quantitative","title":null}}}]},
{"title":"Lane merge","width":125,"height":97,
 "encoding":{"x":{"field":"s","type":"quantitative","scale":{"domain":[0,147],"nice":false,"zero":false},"axis":{"values":[50,100],"tickCount":20,"labelExpr":"datum.value+'K'","title":null}}},
 "layer":[
  {"data":{"name":"band"},"transform":[{"filter":"datum.p==4"}],"mark":{"type":"area","clip":true,"color":"#0000ff","opacity":0.12},"encoding":{"y":{"field":"lo","type":"quantitative","scale":{"domain":[-244,749],"nice":false,"zero":false},"axis":{"values":[-200,0,200,400,600],"tickCount":20,"format":"d"},"title":null},"y2":{"field":"hi"}}},
  {"data":{"name":"line"},"transform":[{"filter":"datum.p==4"}],"mark":{"type":"line","clip":true,"color":"#0000ff","strokeWidth":1.3},"encoding":{"y":{"field":"m","type":"quantitative","title":null}}}]},
{"title":"Right turn medium","width":125,"height":97,
 "encoding":{"x":{"field":"s","type":"quantitative","scale":{"domain":[0,85],"nice":false,"zero":false},"axis":{"values":[20,40,60,80],"tickCount":20,"labelExpr":"datum.value+'K'","title":null}}},
 "layer":[
  {"data":{"name":"band"},"transform":[{"filter":"datum.p==5"}],"mark":{"type":"area","clip":true,"color":"#0000ff","opacity":0.12},"encoding":{"y":{"field":"lo","type":"quantitative","scale":{"domain":[-93,297],"nice":false,"zero":false},"axis":{"values":[0,100,200],"tickCount":20,"format":"d"},"title":"Reward"},"y2":{"field":"hi"}}},
  {"data":{"name":"line"},"transform":[{"filter":"datum.p==5"}],"mark":{"type":"line","clip":true,"color":"#0000ff","strokeWidth":1.3},"encoding":{"y":{"field":"m","type":"quantitative","title":"Reward"}}}]},
{"title":"Left turn medium","width":125,"height":97,
 "encoding":{"x":{"field":"s","type":"quantitative","scale":{"domain":[0,271.5],"nice":false,"zero":false},"axis":{"values":[100,200],"tickCount":20,"labelExpr":"datum.value+'K'","title":null}}},
 "layer":[
  {"data":{"name":"band"},"transform":[{"filter":"datum.p==6"}],"mark":{"type":"area","clip":true,"color":"#0000ff","opacity":0.12},"encoding":{"y":{"field":"lo","type":"quantitative","scale":{"domain":[-161,463],"nice":false,"zero":false},"axis":{"values":[0,200,400],"tickCount":20,"format":"d"},"title":null},"y2":{"field":"hi"}}},
  {"data":{"name":"line"},"transform":[{"filter":"datum.p==6"}],"mark":{"type":"line","clip":true,"color":"#0000ff","strokeWidth":1.3},"encoding":{"y":{"field":"m","type":"quantitative","title":null}}}]},
{"title":"Overtake","width":125,"height":97,
 "encoding":{"x":{"field":"s","type":"quantitative","scale":{"domain":[0,170.4],"nice":false,"zero":false},"axis":{"values":[50,100,150],"tickCount":20,"labelExpr":"datum.value+'K'","title":null}}},
 "layer":[
  {"data":{"name":"band"},"transform":[{"filter":"datum.p==7"}],"mark":{"type":"area","clip":true,"color":"#0000ff","opacity":0.12},"encoding":{"y":{"field":"lo","type":"quantitative","scale":{"domain":[28,935],"nice":false,"zero":false},"axis":{"values":[200,400,600,800],"tickCount":20,"format":"d"},"title":null},"y2":{"field":"hi"}}},
  {"data":{"name":"line"},"transform":[{"filter":"datum.p==7"}],"mark":{"type":"line","clip":true,"color":"#0000ff","strokeWidth":1.3},"encoding":{"y":{"field":"m","type":"quantitative","title":null}}}]},
{"title":"Four lanes","width":125,"height":97,
 "encoding":{"x":{"field":"s","type":"quantitative","scale":{"domain":[-1.5,113.8],"nice":false,"zero":false},"axis":{"values":[25,50,75,100],"tickCount":20,"labelExpr":"datum.value+'K'","title":null}}},
 "layer":[
  {"data":{"name":"band"},"transform":[{"filter":"datum.p==8"}],"mark":{"type":"area","clip":true,"color":"#0000ff","opacity":0.12},"encoding":{"y":{"field":"lo","type":"quantitative","scale":{"domain":[-114,877],"nice":false,"zero":false},"axis":{"values":[0,200,400,600,800],"tickCount":20,"format":"d"},"title":null},"y2":{"field":"hi"}}},
  {"data":{"name":"line"},"transform":[{"filter":"datum.p==8"}],"mark":{"type":"line","clip":true,"color":"#0000ff","strokeWidth":1.3},"encoding":{"y":{"field":"m","type":"quantitative","title":null}}}]},
{"title":"Right turn simple","width":125,"height":97,
 "encoding":{"x":{"field":"s","type":"quantitative","scale":{"domain":[0,276.5],"nice":false,"zero":false},"axis":{"values":[100,200],"tickCount":20,"labelExpr":"datum.value+'K'","title":"Step"}}},
 "layer":[
  {"data":{"name":"band"},"transform":[{"filter":"datum.p==9"}],"mark":{"type":"area","clip":true,"color":"#0000ff","opacity":0.12},"encoding":{"y":{"field":"lo","type":"quantitative","scale":{"domain":[-254,407],"nice":false,"zero":false},"axis":{"values":[-200,0,200],"tickCount":20,"format":"d"},"title":"Reward"},"y2":{"field":"hi"}}},
  {"data":{"name":"line"},"transform":[{"filter":"datum.p==9"}],"mark":{"type":"line","clip":true,"color":"#0000ff","strokeWidth":1.3},"encoding":{"y":{"field":"m","type":"quantitative","title":"Reward"}}}]},
{"title":"Left turn simple","width":125,"height":97,
 "encoding":{"x":{"field":"s","type":"quantitative","scale":{"domain":[0,178.6],"nice":false,"zero":false},"axis":{"values":[50,100,150],"tickCount":20,"labelExpr":"datum.value+'K'","title":"Step"}}},
 "layer":[
  {"data":{"name":"band"},"transform":[{"filter":"datum.p==10"}],"mark":{"type":"area","clip":true,"color":"#0000ff","opacity":0.12},"encoding":{"y":{"field":"lo","type":"quantitative","scale":{"domain":[-90,475],"nice":false,"zero":false},"axis":{"values":[0,100,200,300,400],"tickCount":20,"format":"d"},"title":null},"y2":{"field":"hi"}}},
  {"data":{"name":"line"},"transform":[{"filter":"datum.p==10"}],"mark":{"type":"line","clip":true,"color":"#0000ff","strokeWidth":1.3},"encoding":{"y":{"field":"m","type":"quantitative","title":null}}}]},
{"title":"Roundabout","width":125,"height":97,
 "encoding":{"x":{"field":"s","type":"quantitative","scale":{"domain":[0,150.8],"nice":false,"zero":false},"axis":{"values":[50,100,150],"tickCount":20,"labelExpr":"datum.value+'K'","title":"Step"}}},
 "layer":[
  {"data":{"name":"band"},"transform":[{"filter":"datum.p==11"}],"mark":{"type":"area","clip":true,"color":"#0000ff","opacity":0.12},"encoding":{"y":{"field":"lo","type":"quantitative","scale":{"domain":[-465,590],"nice":false,"zero":false},"axis":{"values":[-400,-200,0,200,400],"tickCount":20,"format":"d"},"title":null},"y2":{"field":"hi"}}},
  {"data":{"name":"line"},"transform":[{"filter":"datum.p==11"}],"mark":{"type":"line","clip":true,"color":"#0000ff","strokeWidth":1.3},"encoding":{"y":{"field":"m","type":"quantitative","title":null}}}]}
],
"config":{
 "view":{"stroke":null},
 "font":"DejaVu Sans",
 "title":{"fontSize":9,"fontWeight":"normal","anchor":"middle","frame":"group","offset":2,"color":"#000"},
 "axis":{"labelFontSize":7.5,"labelColor":"#222","titleFontSize":7.5,"titleFontWeight":"normal","titleColor":"#000","gridColor":"#e3e3e3","gridWidth":0.8,"ticks":false,"labelPadding":3,"domainWidth":1,"labelFlush":false,"labelOverlap":false},
 "axisY":{"domainColor":"#555","titlePadding":5},
 "axisX":{"domainColor":"#bbb","titlePadding":3}
}
}
